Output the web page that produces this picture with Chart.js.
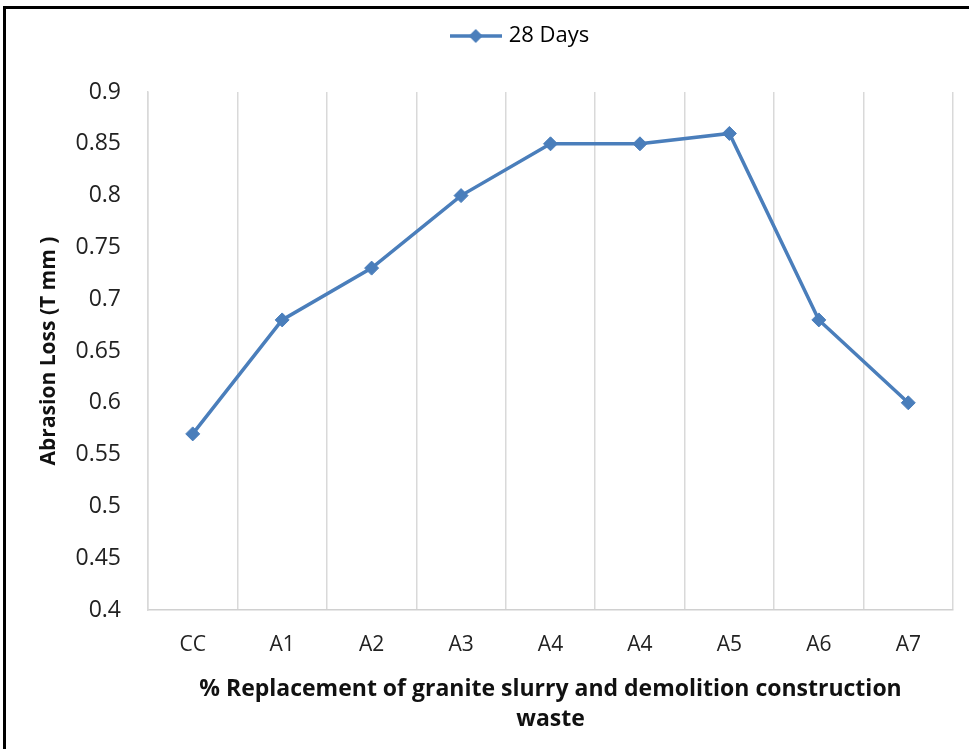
<!DOCTYPE html>
<html>
<head>
<meta charset="utf-8">
<script src="https://cdn.jsdelivr.net/npm/chart.js@4.4.1/dist/chart.umd.min.js"></script>
<style>
  html, body { margin: 0; padding: 0; background: #fff; overflow: hidden; }
  #frame { position: absolute; left: 3px; top: 6px; width: 1000px; height: 800px;
           border-top: 3px solid #000; border-left: 3px solid #000; }
  #c { position: absolute; left: 0; top: 0; }
</style>
</head>
<body>
<div id="frame"></div>
<canvas id="c" width="969" height="749"></canvas>
<script>
// ---- data ----
const categories = ['CC', 'A1', 'A2', 'A3', 'A4', 'A4', 'A5', 'A6', 'A7'];
const seriesName = '28 Days';
const values28 = [0.57, 0.68, 0.73, 0.80, 0.85, 0.85, 0.86, 0.68, 0.60];
const yTickLabels = ['0.4', '0.45', '0.5', '0.55', '0.6', '0.65', '0.7', '0.75', '0.8', '0.85', '0.9'];
const yTitle = 'Abrasion Loss (T mm )';
const xTitle = ['% Replacement of granite slurry and demolition construction', 'waste'];

const BLUE = '#4A7EBB';

// legend symbol: line with diamond
const sym = document.createElement('canvas');
sym.width = 52; sym.height = 18;
(function () {
  const g = sym.getContext('2d');
  g.strokeStyle = BLUE; g.lineWidth = 3.5;
  g.beginPath(); g.moveTo(0, 9); g.lineTo(52, 9); g.stroke();
  g.fillStyle = BLUE;
  g.beginPath(); g.moveTo(26, 2); g.lineTo(33, 9); g.lineTo(26, 16); g.lineTo(19, 9); g.closePath(); g.fill();
})();

const legendTweak = {
  id: 'legendTweak',
  beforeInit(chart) {
    const orig = chart.legend.fit;
    chart.legend.fit = function () { orig.call(this); this.height += 35; };
  },
  afterLayout(chart) {
    chart.legend.left += 45; chart.legend.right += 45;
  }
};

new Chart(document.getElementById('c'), {
  type: 'line',
  data: {
    labels: categories,
    datasets: [{
      label: seriesName,
      data: values28,
      borderColor: BLUE,
      backgroundColor: BLUE,
      borderWidth: 3.5,
      pointStyle: 'rectRot',
      pointRadius: 7,
      pointBackgroundColor: BLUE,
      pointBorderColor: BLUE,
      pointBorderWidth: 1,
      tension: 0,
      fill: false
    }]
  },
  options: {
    responsive: false,
    animation: false,
    layout: { padding: { left: 0, right: 16, top: 14, bottom: 0 } },
    plugins: {
      legend: {
        position: 'top',
        labels: {
          usePointStyle: true,
          pointStyleWidth: 44,
          padding: 11,
          color: '#1a1a1a',
          font: { family: 'Open Sans', size: 22 },
          generateLabels(chart) {
            return [{ text: seriesName, pointStyle: sym, fillStyle: BLUE, strokeStyle: BLUE, lineWidth: 0, datasetIndex: 0, hidden: false }];
          }
        }
      },
      tooltip: { enabled: false }
    },
    scales: {
      x: {
        offset: true,
        grid: { display: true, offset: true, color: '#D9D9D9', lineWidth: 1.5, drawTicks: false },
        border: { display: true, color: '#D0D0D0', width: 1.5 },
        ticks: { color: '#222', font: { family: 'Open Sans', size: 21, weight: '500' }, padding: 22, maxRotation: 0, autoSkip: false },
        title: {
          display: true, text: xTitle, color: '#111',
          font: { family: 'Open Sans', size: 23, weight: 'bold', lineHeight: 1.32 },
          padding: { top: 0, bottom: 14 }
        },
        afterFit(s) { s.height = 139; }
      },
      y: {
        min: 0.4, max: 0.9,
        grid: { display: false, drawTicks: false },
        border: { display: true, color: '#D9D9D9', width: 1.5 },
        ticks: {
          stepSize: 0.05, padding: 27, color: '#222',
          font: { family: 'Open Sans', size: 23, weight: '500' },
          callback(v, i) { return yTickLabels[i]; }
        },
        title: {
          display: true, text: yTitle, color: '#111',
          font: { family: 'Open Sans', size: 21, weight: 'bold', lineHeight: 1.2 },
          padding: { top: 36, bottom: 0 }
        },
        afterFit(s) { s.width = 148; }
      }
    }
  },
  plugins: [legendTweak]
});
</script>
</body>
</html>
